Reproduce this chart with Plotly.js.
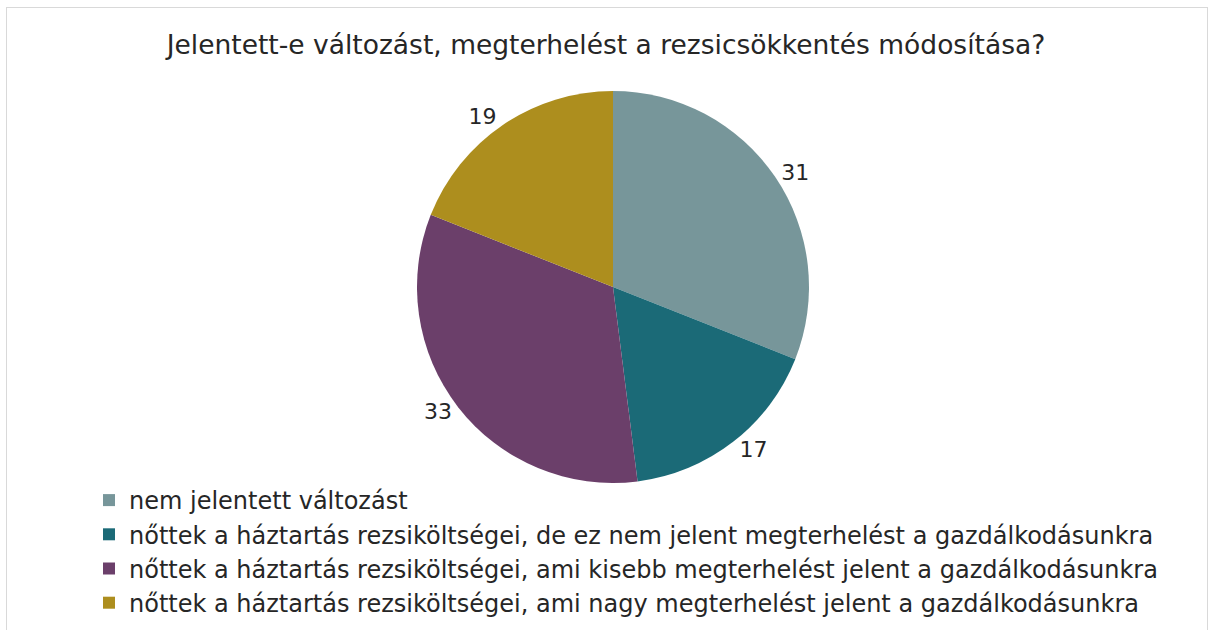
<!DOCTYPE html>
<html>
<head>
<meta charset="utf-8">
<script src="https://cdn.plot.ly/plotly-3.0.1.min.js"></script>
<style>
  html, body { margin: 0; padding: 0; background: #ffffff; }
  #wrap { position: relative; width: 1212px; height: 630px; overflow: hidden; }
  #chart { position: absolute; left: 0; top: 0; width: 1212px; height: 630px; }
  #frame { position: absolute; left: 6px; top: 7px; width: 1200px; height: 700px; border: 1px solid #d9d9d9; pointer-events: none; }
</style>
</head>
<body>
<div id="wrap">
  <div id="chart"></div>
  <div id="frame"></div>
</div>
<script>
const chartTitle = "Jelentett-e változást, megterhelést a rezsicsökkentés módosítása?";
const categories = [
  "nem jelentett változást",
  "nőttek a háztartás rezsiköltségei, de ez nem jelent megterhelést a gazdálkodásunkra",
  "nőttek a háztartás rezsiköltségei, ami kisebb megterhelést jelent a gazdálkodásunkra",
  "nőttek a háztartás rezsiköltségei, ami nagy megterhelést jelent a gazdálkodásunkra"
];
const values = [31, 17, 33, 19];
const colors = ["#77969a", "#1b6a77", "#6b3f6a", "#ad8e1e"];

const W = 1212, H = 630;
const cx = 613, cy = 287, R = 196;
const FONT = "DejaVu Sans, sans-serif";

const trace = {
  type: "pie",
  labels: categories,
  values: values,
  sort: false,
  direction: "clockwise",
  rotation: 0,
  marker: { colors: colors, line: { width: 0 } },
  textinfo: "value",
  textposition: "outside",
  outsidetextfont: { family: FONT, size: 22, color: "#262626" },
  hoverinfo: "label+value",
  domain: {
    x: [(cx - R) / W, (cx + R) / W],
    y: [(H - cy - R) / H, (H - cy + R) / H]
  },
  automargin: false
};

const layout = {
  width: W,
  height: H,
  margin: { l: 0, r: 0, t: 0, b: 0 },
  paper_bgcolor: "rgba(0,0,0,0)",
  plot_bgcolor: "rgba(0,0,0,0)",
  title: {
    text: chartTitle,
    x: 0.5,
    xanchor: "center",
    y: 1 - 45 / H,
    yanchor: "middle",
    font: { family: FONT, size: 26.5, color: "#262626" }
  },
  showlegend: true,
  legend: {
    x: 89 / W,
    xanchor: "left",
    y: 1 - 478 / H,
    yanchor: "top",
    font: { family: FONT, size: 24, color: "#262626" },
    bgcolor: "rgba(0,0,0,0)",
    itemwidth: 30
  }
};

Plotly.newPlot("chart", [trace], layout, { displayModeBar: false, staticPlot: true });
</script>
</body>
</html>
